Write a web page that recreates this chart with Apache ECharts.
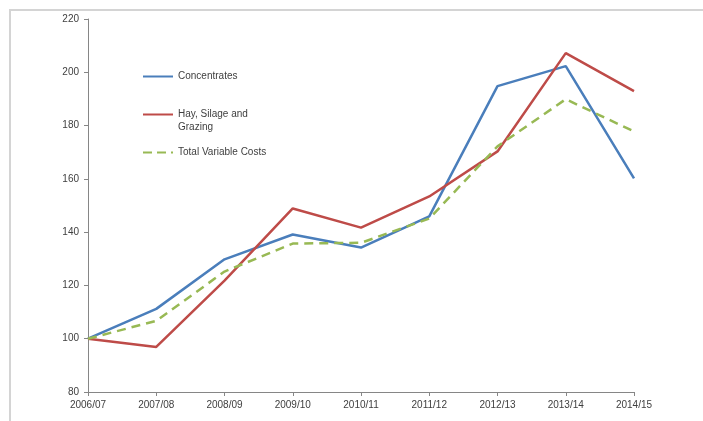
<!DOCTYPE html>
<html>
<head>
<meta charset="utf-8">
<script src="https://cdn.jsdelivr.net/npm/echarts@6/dist/echarts.min.js"></script>
<style>
html,body{margin:0;padding:0;background:#fff;}
#frame{position:absolute;left:9px;top:9px;width:800px;height:500px;border-left:2px solid #d4d4d4;border-top:2px solid #d4d4d4;}
#main{position:absolute;left:0;top:0;width:703px;height:421px;}
</style>
</head>
<body>
<div id="frame"></div>
<div id="main"></div>
<script>
// 年度
var years = ['2006/07','2007/08','2008/09','2009/10','2010/11','2011/12','2012/13','2013/14','2014/15'];
// 指数数据
var concentrates = [100, 111.2, 129.8, 139.1, 134.2, 145.9, 194.8, 202.3, 160.2];
var haySilage = [100, 96.9, 121.8, 148.9, 141.7, 153.4, 170.3, 207.2, 192.9];
var totalCosts = [100, 106.7, 125.2, 135.7, 136.0, 145.1, 172.2, 189.9, 177.8];
var seriesNames = ['Concentrates', 'Hay, Silage and\nGrazing', 'Total Variable Costs'];
var yMin = 80, yMax = 220, yStep = 20;

var axisGray = '#868686';
var labelColor = '#404040';
var fontName = 'Liberation Sans';

function legendOpt(name, topPx, fmt){
    return {
        data: [name],
        left: 143,
        top: topPx,
        padding: 0,
        orient: 'vertical',
        itemWidth: 30,
        itemHeight: 10,
        itemGap: 0,
        icon: 'path://M0,4L30,4L30,6L0,6Z',
        selectedMode: false,
        formatter: fmt,
        textStyle: {color: labelColor, fontFamily: fontName, fontSize: 10, lineHeight: 13}
    };
}

var myChart = echarts.init(document.getElementById('main'));
var option = {
    animation: false,
    grid: {left: 88, right: 69, top: 19, bottom: 29, containLabel: false},
    legend: [
        legendOpt(seriesNames[0], 70),
        // 空行让图标与第一行文字对齐
        legendOpt(seriesNames[1], 95, function(n){ return ' \n' + n; }),
        (function(){
            var l = legendOpt(seriesNames[2], 146);
            l.icon = 'path://M0,4L9,4L9,6L0,6Z M14,4L23,4L23,6L14,6Z M28,4L30,4L30,6L28,6Z';
            return l;
        })()
    ],
    xAxis: {
        type: 'category',
        data: years,
        boundaryGap: false,
        axisLine: {lineStyle: {color: axisGray, width: 1}},
        axisTick: {show: true, length: 4, lineStyle: {color: axisGray}},
        axisLabel: {color: labelColor, fontFamily: fontName, fontSize: 10, margin: 8, interval: 0}
    },
    yAxis: {
        type: 'value',
        min: yMin,
        max: yMax,
        interval: yStep,
        splitLine: {show: false},
        axisLine: {show: true, lineStyle: {color: axisGray, width: 1}},
        axisTick: {show: true, length: 4, lineStyle: {color: axisGray}},
        axisLabel: {color: labelColor, fontFamily: fontName, fontSize: 10, margin: 9}
    },
    series: [
        {
            name: seriesNames[0], type: 'line', data: concentrates, showSymbol: false,
            lineStyle: {color: '#4a7ebb', width: 2.5}, itemStyle: {color: '#4a7ebb'}
        },
        {
            name: seriesNames[1], type: 'line', data: haySilage, showSymbol: false,
            lineStyle: {color: '#be4b48', width: 2.5}, itemStyle: {color: '#be4b48'}
        },
        {
            name: seriesNames[2], type: 'line', data: totalCosts, showSymbol: false,
            lineStyle: {color: '#98b954', width: 2.5, type: [9, 6]}, itemStyle: {color: '#98b954'}
        }
    ]
};
myChart.setOption(option);
</script>
</body>
</html>
